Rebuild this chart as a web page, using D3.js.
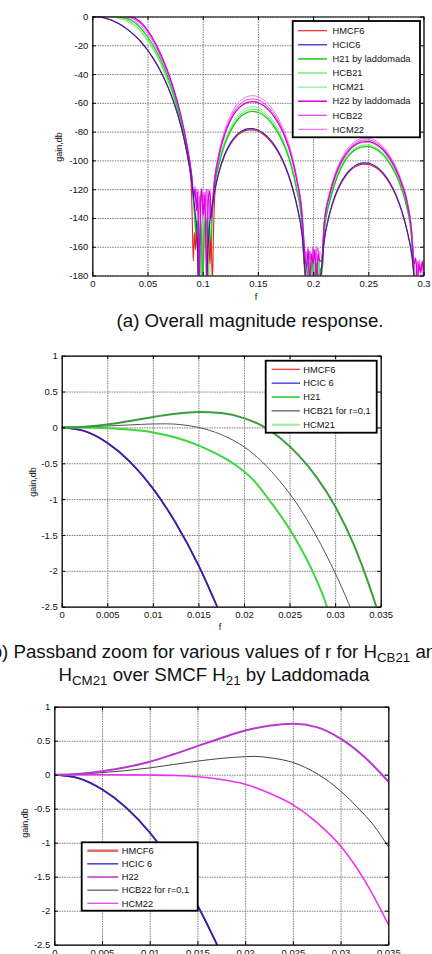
<!DOCTYPE html>
<html><head><meta charset="utf-8">
<script src="https://cdn.jsdelivr.net/npm/d3@7"></script>
<style>body{margin:0;background:#fff}svg{display:block}text{font-family:Arial,"Liberation Sans",sans-serif;fill:#111}</style>
</head><body><svg id="c" width="432" height="954"></svg>
<script>
// ---------- tick values ----------
const fTicks1 = [0, 0.05, 0.1, 0.15, 0.2, 0.25, 0.3];
const gTicks1 = [0, -20, -40, -60, -80, -100, -120, -140, -160, -180];
const fTicksZ = [0, 0.005, 0.01, 0.015, 0.02, 0.025, 0.03, 0.035];
const gTicksZ = [1, 0.5, 0, -0.5, -1, -1.5, -2, -2.5];

// ---------- panel (a) series: [f, gain dB] ----------
const p1HMCF6 = [[0,0],[0.005,-0.2],[0.01,-0.85],[0.015,-1.9],[0.02,-3.4],[0.025,-5.4],[0.03,-7.9],[0.035,-10.9],[0.04,-14.4],[0.045,-18.5],[0.05,-23.3],[0.055,-28.9],[0.06,-35.4],[0.065,-43],[0.07,-51.9],[0.075,-62.5],[0.08,-75.6],[0.085,-92.5],[0.0895,-115],[0.0905,-140],[0.0915,-170],[0.0925,-150],[0.0935,-162],[0.0945,-148],[0.096,-185],[0.1,-195],[0.1035,-185],[0.1045,-155],[0.1055,-152],[0.1065,-172],[0.1075,-153],[0.1088,-185],[0.1098,-150],[0.111,-124],[0.115,-108],[0.12,-96.5],[0.125,-88.9],[0.13,-83.8],[0.135,-80.7],[0.14,-79],[0.145,-78.8],[0.15,-79.8],[0.155,-82],[0.16,-85.5],[0.165,-90.3],[0.17,-96.8],[0.175,-105.1],[0.18,-116.1],[0.185,-130.8],[0.19,-152],[0.1935,-185],[0.2,-195],[0.2065,-185],[0.21,-156.6],[0.215,-137.6],[0.22,-125.1],[0.225,-116.5],[0.23,-110.4],[0.235,-106.3],[0.24,-103.8],[0.245,-102.6],[0.25,-102.8],[0.255,-104.3],[0.26,-107],[0.265,-111.2],[0.27,-117],[0.275,-124.7],[0.28,-135],[0.285,-149],[0.29,-170],[0.293,-195]];
const p1HCIC6 = [[0,0],[0.005,-0.2],[0.01,-0.85],[0.015,-1.9],[0.02,-3.4],[0.025,-5.4],[0.03,-7.9],[0.035,-10.9],[0.04,-14.4],[0.045,-18.5],[0.05,-23.3],[0.055,-28.9],[0.06,-35.3],[0.065,-42.9],[0.07,-51.7],[0.075,-62.2],[0.08,-75.2],[0.085,-91.7],[0.09,-114.7],[0.093,-135],[0.095,-153],[0.0963,-185],[0.0985,-200],[0.1035,-185],[0.105,-158],[0.11,-124.8],[0.115,-107],[0.12,-95.6],[0.125,-88],[0.13,-82.9],[0.135,-79.8],[0.14,-78.1],[0.145,-77.9],[0.15,-78.9],[0.155,-81.1],[0.16,-84.6],[0.165,-89.4],[0.17,-95.9],[0.175,-104.2],[0.18,-115.2],[0.185,-129.9],[0.19,-151.2],[0.194,-185],[0.2,-195],[0.206,-185],[0.21,-155.7],[0.215,-136.7],[0.22,-124.2],[0.225,-115.6],[0.23,-109.5],[0.235,-105.4],[0.24,-102.9],[0.245,-101.7],[0.25,-101.9],[0.255,-103.4],[0.26,-106.1],[0.265,-110.3],[0.27,-116.1],[0.275,-123.8],[0.28,-134.1],[0.285,-148.2],[0.29,-168.9],[0.293,-195]];
const p1H21 = [[0,0],[0.01,0.15],[0.015,0.2],[0.02,0.1],[0.025,-0.4],[0.03,-1.2],[0.035,-2.6],[0.04,-5.2],[0.045,-9],[0.05,-14],[0.055,-20],[0.06,-27],[0.065,-35.5],[0.07,-45.5],[0.075,-57],[0.08,-71],[0.085,-89],[0.09,-113],[0.0925,-135],[0.094,-150],[0.0955,-142],[0.097,-160],[0.0985,-145],[0.1,-185],[0.1015,-148],[0.103,-140],[0.1045,-158],[0.106,-143],[0.1075,-165],[0.1085,-140],[0.11,-124],[0.115,-102],[0.12,-89],[0.125,-80],[0.13,-73.5],[0.135,-69],[0.14,-66.8],[0.145,-66],[0.15,-66.6],[0.155,-68.6],[0.16,-72],[0.165,-77],[0.17,-83.5],[0.175,-92],[0.18,-103.5],[0.185,-120],[0.19,-145],[0.1915,-165],[0.1935,-178],[0.195,-168],[0.197,-185],[0.199,-170],[0.201,-185],[0.203,-172],[0.205,-185],[0.207,-175],[0.2085,-175],[0.21,-150],[0.215,-129],[0.22,-115.5],[0.225,-106],[0.23,-99],[0.235,-94.5],[0.24,-91.8],[0.245,-90.6],[0.25,-90.5],[0.255,-91.5],[0.26,-93.8],[0.265,-97.5],[0.27,-103],[0.275,-110],[0.28,-119.5],[0.285,-133],[0.289,-152],[0.2915,-185]];
const p1HCB21 = [[0,0],[0.01,0.05],[0.015,0],[0.02,-0.27],[0.025,-0.9],[0.03,-2.1],[0.035,-4],[0.04,-7],[0.045,-11],[0.05,-16],[0.055,-22],[0.06,-29],[0.065,-37.5],[0.07,-47.5],[0.075,-59],[0.08,-73],[0.085,-90.5],[0.09,-114],[0.0925,-136],[0.094,-155],[0.0955,-145],[0.097,-185],[0.0985,-150],[0.1,-140],[0.1015,-160],[0.103,-145],[0.1045,-185],[0.106,-148],[0.1075,-160],[0.1085,-139],[0.11,-123],[0.115,-101],[0.12,-87.8],[0.125,-78.7],[0.13,-72.1],[0.135,-67.6],[0.14,-65.3],[0.145,-64.5],[0.15,-65.1],[0.155,-67.1],[0.16,-70.6],[0.165,-75.7],[0.17,-82.3],[0.175,-90.9],[0.18,-102.5],[0.185,-119],[0.19,-144],[0.1915,-164],[0.193,-185],[0.195,-172],[0.197,-177],[0.199,-185],[0.201,-171],[0.203,-178],[0.205,-170],[0.207,-185],[0.2085,-174],[0.21,-149],[0.215,-128],[0.22,-114.6],[0.225,-105],[0.23,-98],[0.235,-93.4],[0.24,-90.7],[0.245,-89.4],[0.25,-89.3],[0.255,-90.4],[0.26,-92.7],[0.265,-96.4],[0.27,-102],[0.275,-109],[0.28,-118.6],[0.285,-132],[0.289,-151],[0.2915,-184]];
const p1HCM21 = [[0,0],[0.01,-0.07],[0.015,-0.25],[0.02,-0.65],[0.025,-1.55],[0.03,-2.9],[0.035,-5],[0.04,-8],[0.045,-12],[0.05,-17],[0.055,-23],[0.06,-30],[0.065,-38.5],[0.07,-48.5],[0.075,-60],[0.08,-74],[0.085,-91.5],[0.09,-115],[0.0925,-137],[0.094,-148],[0.0955,-138],[0.097,-150],[0.0985,-185],[0.1,-143],[0.1015,-138],[0.103,-155],[0.1045,-142],[0.106,-185],[0.1075,-150],[0.1085,-138],[0.11,-122],[0.115,-99.8],[0.12,-86.4],[0.125,-77.2],[0.13,-70.5],[0.135,-65.9],[0.14,-63.5],[0.145,-62.7],[0.15,-63.3],[0.155,-65.4],[0.16,-68.9],[0.165,-74.1],[0.17,-80.8],[0.175,-89.5],[0.18,-101.2],[0.185,-118],[0.19,-143],[0.1915,-163],[0.193,-170],[0.195,-185],[0.197,-169],[0.199,-176],[0.201,-168],[0.203,-185],[0.205,-174],[0.207,-169],[0.2085,-173],[0.21,-148],[0.215,-126.8],[0.22,-113.2],[0.225,-103.6],[0.23,-96.6],[0.235,-91.9],[0.24,-89.1],[0.245,-87.8],[0.25,-87.7],[0.255,-88.8],[0.26,-91.1],[0.265,-94.9],[0.27,-100.5],[0.275,-107.7],[0.28,-117.4],[0.285,-131],[0.289,-150],[0.2915,-183]];
const p1H22 = [[0,0],[0.01,0.19],[0.02,0.65],[0.025,0.75],[0.03,0.53],[0.035,-0.1],[0.04,-1.8],[0.045,-4.8],[0.05,-9.5],[0.055,-15.5],[0.06,-23],[0.065,-31.5],[0.07,-41.5],[0.075,-53.5],[0.08,-68],[0.085,-86],[0.09,-110],[0.092,-125],[0.093,-120],[0.0945,-135],[0.0955,-122],[0.097,-185],[0.098,-130],[0.099,-120],[0.1005,-138],[0.102,-124],[0.1035,-185],[0.105,-128],[0.1065,-121],[0.108,-140],[0.11,-120],[0.115,-96],[0.12,-82],[0.125,-72.5],[0.13,-66],[0.135,-62],[0.14,-59.8],[0.145,-59.2],[0.15,-59.8],[0.155,-61.8],[0.16,-65.2],[0.165,-70],[0.17,-76.5],[0.175,-85],[0.18,-96.5],[0.185,-113],[0.19,-138],[0.1925,-165],[0.194,-175],[0.1955,-162],[0.197,-185],[0.1985,-165],[0.2,-172],[0.2015,-162],[0.203,-185],[0.2045,-165],[0.206,-170],[0.208,-170],[0.21,-145],[0.215,-124],[0.22,-111],[0.225,-102],[0.23,-95.5],[0.235,-91],[0.24,-88.3],[0.245,-87.1],[0.25,-87],[0.255,-88],[0.26,-90.3],[0.265,-94],[0.27,-99.5],[0.275,-106.5],[0.28,-116],[0.285,-129],[0.289,-148],[0.2915,-172],[0.293,-168],[0.2945,-185],[0.296,-172],[0.2975,-178],[0.299,-170],[0.3,-176]];
const p1HCB22 = [[0,0],[0.01,0.1],[0.02,0.265],[0.025,0.18],[0.03,-0.24],[0.035,-1.06],[0.04,-2.8],[0.045,-5.8],[0.05,-10.5],[0.055,-16.5],[0.06,-24],[0.065,-32.5],[0.07,-42.5],[0.075,-54.5],[0.08,-69],[0.085,-87],[0.09,-111],[0.092,-126],[0.093,-125],[0.0945,-120],[0.096,-140],[0.0975,-125],[0.099,-185],[0.1005,-123],[0.102,-130],[0.1035,-120],[0.105,-185],[0.1065,-127],[0.108,-139],[0.11,-119],[0.115,-94.8],[0.12,-80.6],[0.125,-70.9],[0.13,-64.3],[0.135,-60.2],[0.14,-57.9],[0.145,-57.3],[0.15,-57.9],[0.155,-60],[0.16,-63.4],[0.165,-68.3],[0.17,-74.9],[0.175,-83.5],[0.18,-95.2],[0.185,-112],[0.19,-137],[0.1925,-164],[0.194,-164],[0.1955,-185],[0.197,-163],[0.1985,-170],[0.2,-160],[0.2015,-185],[0.203,-166],[0.2045,-161],[0.206,-185],[0.208,-169],[0.21,-144],[0.215,-123],[0.22,-110],[0.225,-100.9],[0.23,-94.4],[0.235,-89.9],[0.24,-87.1],[0.245,-85.9],[0.25,-85.8],[0.255,-86.8],[0.26,-89.1],[0.265,-92.9],[0.27,-98.4],[0.275,-105.5],[0.28,-115],[0.285,-128],[0.289,-147],[0.2915,-171],[0.293,-185],[0.295,-170],[0.297,-176],[0.299,-172],[0.3,-180]];
const p1HCM22 = [[0,0],[0.01,0],[0.02,-0.15],[0.025,-0.44],[0.03,-1.05],[0.035,-2.2],[0.04,-4.2],[0.045,-7.3],[0.05,-11.8],[0.055,-17.8],[0.06,-25],[0.065,-33.5],[0.07,-43.5],[0.075,-55.5],[0.08,-70],[0.085,-88],[0.09,-112],[0.092,-127],[0.093,-118],[0.0945,-130],[0.096,-121],[0.0975,-133],[0.099,-119],[0.1005,-185],[0.102,-122],[0.1035,-132],[0.105,-120],[0.1065,-136],[0.108,-138],[0.11,-118],[0.115,-93.5],[0.12,-79],[0.125,-69],[0.13,-62.2],[0.135,-58],[0.14,-55.7],[0.145,-55],[0.15,-55.7],[0.155,-57.8],[0.16,-61.3],[0.165,-66.3],[0.17,-73],[0.175,-81.8],[0.18,-93.7],[0.185,-111],[0.19,-136],[0.1925,-163],[0.194,-168],[0.1955,-160],[0.197,-171],[0.1985,-185],[0.2,-162],[0.2015,-167],[0.203,-160],[0.2045,-185],[0.206,-163],[0.208,-168],[0.21,-143],[0.215,-122],[0.22,-109],[0.225,-99.8],[0.23,-93.2],[0.235,-88.7],[0.24,-85.9],[0.245,-84.7],[0.25,-84.6],[0.255,-85.6],[0.26,-88],[0.265,-91.8],[0.27,-97.4],[0.275,-104.5],[0.28,-114],[0.285,-127],[0.289,-146],[0.2915,-170],[0.2935,-172],[0.295,-178],[0.2965,-169],[0.298,-185],[0.3,-171]];

// ---------- panel (b) passband zoom, H21 family ----------
const zHMCF6 = [[0,0],[0.0025,-0.05],[0.005,-0.215],[0.0075,-0.48],[0.01,-0.85],[0.0125,-1.33],[0.015,-1.92],[0.0175,-2.63]];
const zHCIC6 = [[0,0],[0.0025,-0.05],[0.005,-0.215],[0.0075,-0.48],[0.01,-0.85],[0.0125,-1.33],[0.015,-1.92],[0.0175,-2.63]];
const zH21 = [[0,0],[0.0025,0.01],[0.005,0.04],[0.0075,0.09],[0.01,0.145],[0.0125,0.19],[0.015,0.215],[0.0175,0.2],[0.02,0.13],[0.022,0.02],[0.024,-0.15],[0.026,-0.39],[0.028,-0.7],[0.03,-1.1],[0.032,-1.62],[0.034,-2.3],[0.0355,-2.9]];
const zHCB21 = [[0,0],[0.0025,0.005],[0.005,0.02],[0.0075,0.035],[0.01,0.048],[0.0115,0.05],[0.013,0.04],[0.015,0],[0.0175,-0.1],[0.02,-0.27],[0.022,-0.48],[0.024,-0.76],[0.026,-1.1],[0.028,-1.53],[0.03,-2.03],[0.0315,-2.46],[0.033,-2.95]];
const zHCM21 = [[0,0],[0.0025,0],[0.005,-0.01],[0.0075,-0.03],[0.01,-0.07],[0.0125,-0.14],[0.015,-0.25],[0.017,-0.37],[0.0188,-0.5],[0.021,-0.73],[0.0227,-1],[0.0254,-1.5],[0.0275,-2],[0.0291,-2.5],[0.0298,-2.8]];

// ---------- panel (c) passband zoom, H22 family ----------
const yHMCF6 = [[0,0],[0.0025,-0.05],[0.005,-0.215],[0.0075,-0.48],[0.01,-0.85],[0.0125,-1.33],[0.015,-1.92],[0.0175,-2.63]];
const yHCIC6 = [[0,0],[0.0025,-0.05],[0.005,-0.215],[0.0075,-0.48],[0.01,-0.85],[0.0125,-1.33],[0.015,-1.92],[0.0175,-2.63]];
const yH22 = [[0,0],[0.0025,0.01],[0.005,0.05],[0.0075,0.11],[0.01,0.19],[0.0125,0.3],[0.015,0.42],[0.0175,0.54],[0.02,0.65],[0.0225,0.72],[0.025,0.75],[0.0275,0.7],[0.03,0.53],[0.0325,0.26],[0.035,-0.1]];
const yHCB22 = [[0,0],[0.0025,0.008],[0.005,0.03],[0.0075,0.06],[0.01,0.1],[0.0125,0.15],[0.015,0.2],[0.0175,0.24],[0.02,0.265],[0.021,0.27],[0.0225,0.25],[0.025,0.18],[0.0277,0],[0.03,-0.24],[0.0319,-0.5],[0.0335,-0.75],[0.035,-1.06]];
const yHCM22 = [[0,0],[0.005,0],[0.0075,-0.002],[0.01,-0.005],[0.0125,-0.012],[0.015,-0.03],[0.0175,-0.07],[0.02,-0.14],[0.0225,-0.27],[0.025,-0.44],[0.0275,-0.7],[0.03,-1.05],[0.0325,-1.55],[0.035,-2.2]];

const svg = d3.select('#c');
const FS = 9.5;

function panel(o){
  const x = d3.scaleLinear().domain(o.xd).range([o.l, o.r]);
  const y = d3.scaleLinear().domain(o.yd).range([o.b, o.t]);
  const g = svg.append('g');
  const styleGrid = s => { s.select('.domain').remove(); s.selectAll('line').attr('stroke','#7a7a7a').attr('stroke-width',1).attr('stroke-dasharray','1.5,1'); };
  g.append('g').attr('transform',`translate(0,${o.b})`)
    .call(d3.axisBottom(x).tickValues(o.xt).tickSize(-(o.b-o.t)).tickFormat(''))
    .call(styleGrid);
  g.append('g').attr('transform',`translate(${o.l},0)`)
    .call(d3.axisLeft(y).tickValues(o.yt).tickSize(-(o.r-o.l)).tickFormat(''))
    .call(styleGrid);
  const cid = 'clip' + o.id;
  svg.append('clipPath').attr('id', cid).append('rect')
    .attr('x', o.l).attr('y', o.t).attr('width', o.r-o.l).attr('height', o.b-o.t);
  const line = d3.line().x(d => x(d[0])).y(d => y(d[1])).curve(d3.curveMonotoneX);
  const pg = g.append('g').attr('clip-path', `url(#${cid})`);
  o.series.forEach(s => {
    pg.append('path').attr('d', line(s.data)).attr('fill','none')
      .attr('stroke', s.color).attr('stroke-width', s.w).attr('stroke-linejoin','round');
  });
  const styleAx = s => { s.select('.domain').attr('stroke','#000').attr('stroke-width',1.2);
    s.selectAll('.tick line').attr('stroke','#000');
    s.selectAll('text').attr('font-size',FS).attr('fill','#111').attr('font-family','Arial, "Liberation Sans", sans-serif'); };
  g.append('g').attr('transform',`translate(0,${o.b})`)
    .call(d3.axisBottom(x).tickValues(o.xt).tickFormat(d => String(d)).tickSizeInner(-3.5).tickSizeOuter(0).tickPadding(5))
    .call(styleAx);
  g.append('g').attr('transform',`translate(${o.l},0)`)
    .call(d3.axisLeft(y).tickValues(o.yt).tickFormat(d => String(d)).tickSizeInner(-3.5).tickSizeOuter(0).tickPadding(4))
    .call(styleAx);
  g.append('g').attr('transform',`translate(0,${o.t})`)
    .call(d3.axisTop(x).tickValues(o.xt).tickFormat('').tickSizeInner(-3.5).tickSizeOuter(0))
    .call(styleAx);
  g.append('g').attr('transform',`translate(${o.r},0)`)
    .call(d3.axisRight(y).tickValues(o.yt).tickFormat('').tickSizeInner(-3.5).tickSizeOuter(0))
    .call(styleAx);
  g.append('text').attr('transform',`translate(${o.ylx},${o.yly}) rotate(-90)`)
    .attr('text-anchor','middle').attr('dy','0.35em').attr('font-size',9).text('gain,db');
  if (o.xlx !== undefined) g.append('text').attr('x',o.xlx).attr('y',o.xly)
    .attr('text-anchor','middle').attr('font-size',9).text('f');
  const L = o.legend;
  const lg = g.append('g');
  lg.append('rect').attr('x',L.x).attr('y',L.y).attr('width',L.w).attr('height',L.h)
    .attr('fill','#fff').attr('stroke','#000').attr('stroke-width',1.8);
  L.items.forEach((it,i) => {
    const yy = L.y0 + i*L.dy;
    lg.append('line').attr('x1',L.x1).attr('x2',L.x2).attr('y1',yy).attr('y2',yy)
      .attr('stroke',it.color).attr('stroke-width',it.w);
    lg.append('text').attr('x',L.tx).attr('y',yy).attr('dy','0.35em')
      .attr('font-size',L.fs).text(it.name);
  });
}

const cRed = '#ee2222', cBlue = '#2a1fc0', cGreen = '#1ccc1c', cGreen2 = '#5ee25e', cGreen3 = '#86ef86';
const cMag = '#dd00dd', cMag2 = '#e040e0', cMag3 = '#ff70ff', cGray = '#555555';

panel({
  id:'a', xd:[0,0.3], yd:[-180,0], l:92.3, r:423.5, t:16.5, b:275.5,
  xt:fTicks1, yt:gTicks1, ylx:59, yly:147, xlx:256, xly:299.5,
  series:[
    {data:p1HCM22, color:cMag3, w:1},{data:p1HCB22, color:cMag2, w:1},{data:p1HCM21, color:cGreen3, w:1},
    {data:p1HCB21, color:cGreen2, w:1},{data:p1H21, color:cGreen, w:1.3},{data:p1H22, color:cMag, w:1.3},
    {data:p1HMCF6, color:cRed, w:1.1},{data:p1HCIC6, color:cBlue, w:1.1}
  ],
  legend:{x:292.7, y:21, w:127.3, h:116.3, y0:30.7, dy:14.1, x1:298, x2:327, tx:332.5, fs:9.3,
    items:[{name:'HMCF6',color:cRed,w:1.2},{name:'HCIC6',color:cBlue,w:1.2},{name:'H21 by laddomada',color:cGreen,w:1.5},
      {name:'HCB21',color:cGreen2,w:1.2},{name:'HCM21',color:cGreen3,w:1.2},{name:'H22 by laddomada',color:cMag,w:1.5},
      {name:'HCB22',color:cMag2,w:1.2},{name:'HCM22',color:cMag3,w:1.2}]}
});

panel({
  id:'b', xd:[0,0.035], yd:[-2.5,1], l:61.7, r:380.7, t:355.7, b:606.7,
  xt:fTicksZ, yt:gTicksZ, ylx:33, yly:482, xlx:220, xly:630,
  series:[
    {data:zHMCF6, color:cRed, w:1.5},{data:zHCIC6, color:'#3420b0', w:1.8},
    {data:zHCM21, color:'#3ad83a', w:2},{data:zHCB21, color:cGray, w:1},{data:zH21, color:'#3a9e3a', w:2}
  ],
  legend:{x:265.7, y:360.7, w:111, h:72, y0:369.3, dy:13.85, x1:271.7, x2:300, tx:303.3, fs:9.3,
    items:[{name:'HMCF6',color:'#ff2a2a',w:1.2},{name:'HCIC 6',color:'#2020e0',w:1.2},{name:'H21',color:'#22cc22',w:1.5},
      {name:'HCB21 for r=0,1',color:cGray,w:1.2},{name:'HCM21',color:'#99ee99',w:2}]}
});

panel({
  id:'c', xd:[0,0.035], yd:[-2.5,1], l:54.3, r:388.3, t:706.7, b:944.7,
  xt:fTicksZ, yt:gTicksZ, ylx:25, yly:823,
  series:[
    {data:yHMCF6, color:cRed, w:1.5},{data:yHCIC6, color:'#3420b0', w:1.8},
    {data:yHCM22, color:'#ee33ee', w:1.6},{data:yHCB22, color:'#444', w:1},{data:yH22, color:'#b838d0', w:2}
  ],
  legend:{x:81.7, y:842.3, w:116, h:68.4, y0:850.7, dy:13.15, x1:87.3, x2:118.3, tx:121.7, fs:9.3,
    items:[{name:'HMCF6',color:'#e06a6a',w:2.5},{name:'HCIC 6',color:'#2020d0',w:1.3},{name:'H22',color:'#c030d0',w:1.5},
      {name:'HCB22 for r=0,1',color:cGray,w:1.2},{name:'HCM22',color:'#ee44ee',w:1.3}]}
});

// captions
const CF = 18.7, SF = 13.3;
const cap = svg.append('g');
cap.append('text').attr('x',250).attr('y',327).attr('text-anchor','middle').attr('font-size',CF)
  .text('(a) Overall magnitude response.');
const l1 = cap.append('text').attr('x',216).attr('y',657.5).attr('text-anchor','middle').attr('font-size',CF);
l1.append('tspan').text('(b) Passband zoom for various values of r for H');
l1.append('tspan').attr('dy',4).attr('font-size',SF).text('CB21');
l1.append('tspan').attr('dy',-4).text(' and');
const l2 = cap.append('text').attr('x',214).attr('y',680.5).attr('text-anchor','middle').attr('font-size',CF);
l2.append('tspan').text('H');
l2.append('tspan').attr('dy',4).attr('font-size',SF).text('CM21');
l2.append('tspan').attr('dy',-4).text(' over SMCF H');
l2.append('tspan').attr('dy',4).attr('font-size',SF).text('21');
l2.append('tspan').attr('dy',-4).text(' by Laddomada');
</script></body></html>
